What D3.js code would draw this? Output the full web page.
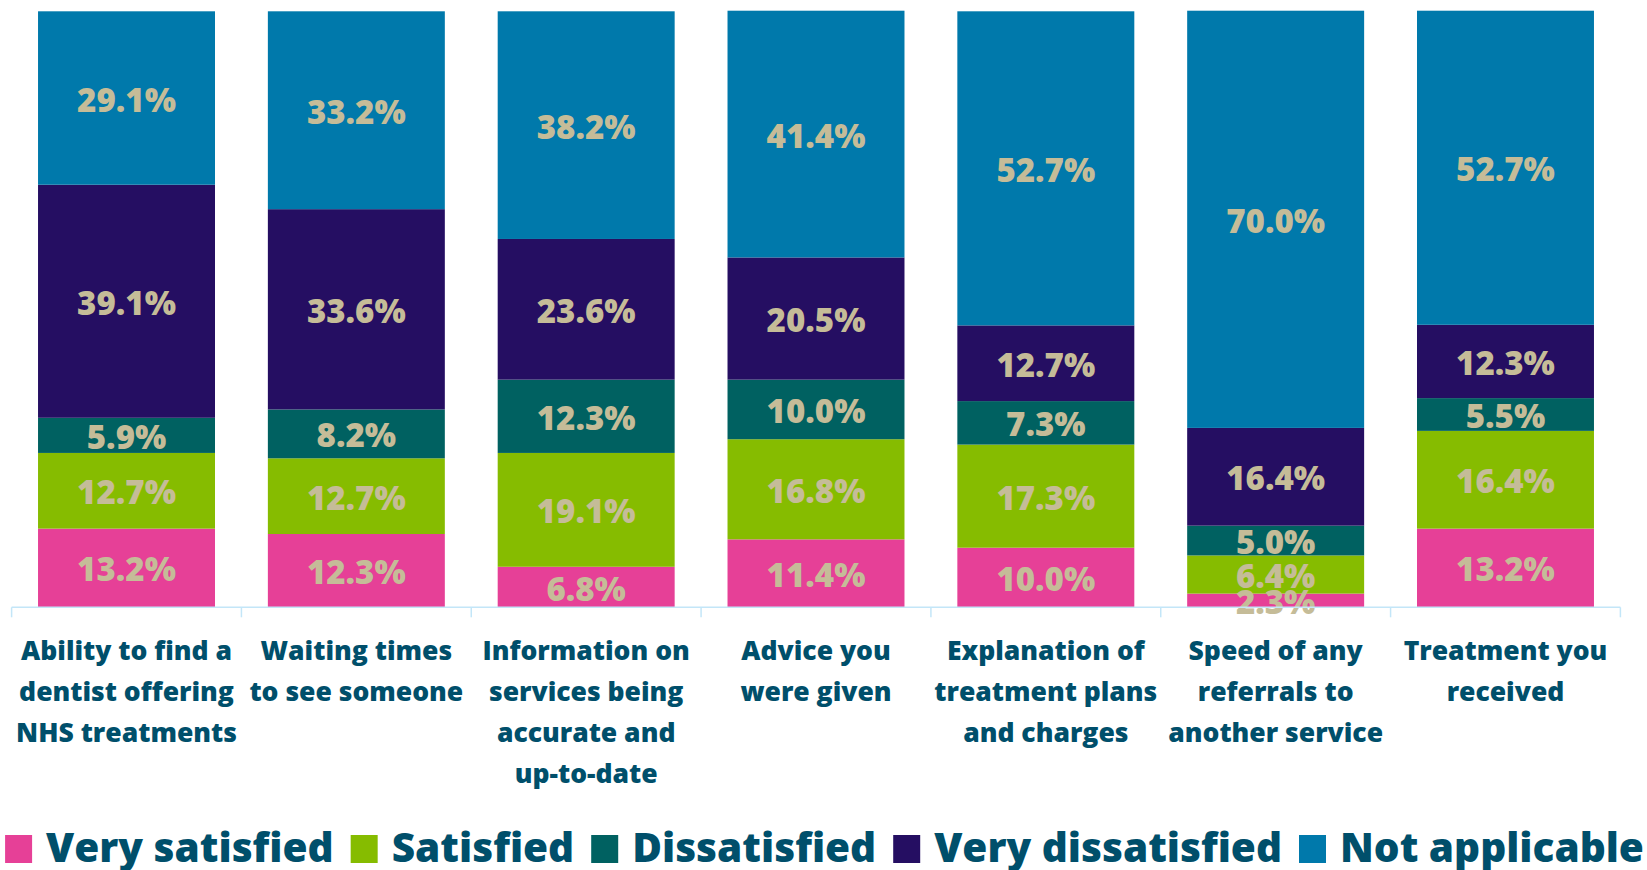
<!DOCTYPE html>
<html><head><meta charset="utf-8">
<script src="https://cdn.jsdelivr.net/npm/d3@7"></script>
<style>
html,body{margin:0;padding:0;background:#fff;overflow:hidden}
svg{display:block}
text{font-family:"Open Sans",sans-serif;font-weight:800}
</style></head>
<body><svg id="c" width="1647" height="870"></svg>
<script>
const categories = [
  ["Ability to find a","dentist offering","NHS treatments"],
  ["Waiting times","to see someone"],
  ["Information on","services being","accurate and","up-to-date"],
  ["Advice you","were given"],
  ["Explanation of","treatment plans","and charges"],
  ["Speed of any","referrals to","another service"],
  ["Treatment you","received"]
];
const seriesNames = ["Very satisfied","Satisfied","Dissatisfied","Very dissatisfied","Not applicable"];
const verySatisfied    = [13.2, 12.3, 6.8, 11.4, 10.0, 2.3, 13.2];
const satisfied        = [12.7, 12.7, 19.1, 16.8, 17.3, 6.4, 16.4];
const dissatisfied     = [5.9, 8.2, 12.3, 10.0, 7.3, 5.0, 5.5];
const veryDissatisfied = [39.1, 33.6, 23.6, 20.5, 12.7, 16.4, 12.3];
const notApplicable    = [29.1, 33.2, 38.2, 41.4, 52.7, 70.0, 52.7];
const colors = ["#E64097","#86BC00","#006161","#250E62","#0079AB"];

const seriesValues = [verySatisfied, satisfied, dissatisfied, veryDissatisfied, notApplicable];
const rows = categories.map((c,i)=>{
  const r = {key: c.join(" ")};
  seriesNames.forEach((s,j)=> r[s] = seriesValues[j][i]);
  return r;
});
const stack = d3.stack().keys(seriesNames)(rows);

const svg = d3.select("#c");
const x = d3.scaleBand().domain(rows.map(r=>r.key)).range([11.6,1620.4]).paddingInner(0.23).paddingOuter(0.115);
const y = d3.scaleLinear().domain([0,100]).range([607.3,11.3]);
const color = d3.scaleOrdinal().domain(seriesNames).range(colors);

const g = svg.append("g");
stack.forEach(layer=>{
  const lg = g.append("g");
  lg.selectAll("rect").data(layer).join("rect")
    .attr("x", d=>x(d.data.key))
    .attr("width", x.bandwidth())
    .attr("y", d=>y(d[1]))
    .attr("height", d=>y(d[0])-y(d[1]))
    .attr("fill", color(layer.key));
});
stack.forEach(layer=>{
  g.append("g").selectAll("text").data(layer).join("text")
    .attr("x", d=>x(d.data.key)+x.bandwidth()/2)
    .attr("y", d=>(y(d[0])+y(d[1]))/2+1)
    .attr("text-anchor","middle")
    .attr("dominant-baseline","central")
    .attr("fill","#C5BC98")
    .style("font-size","33px")
    .text(d=>(d[1]-d[0]).toFixed(1)+"%");
});

// axis
const step = x.step();
const x0 = x.range()[0];
const axis = svg.append("g").attr("transform",`translate(0,${y(0)})`)
  .call(d3.axisBottom(x).tickSize(0).tickFormat(""));
axis.select(".domain").attr("stroke","#C3E6F8").attr("stroke-width",1.5)
  .attr("d",`M${x0},0H${x.range()[1]}`);
const bounds = d3.range(categories.length+1).map(i=>x0+i*step);
axis.selectAll(".bnd").data(bounds).join("line").attr("class","bnd")
  .attr("x1",d=>d).attr("x2",d=>d).attr("y1",0).attr("y2",10)
  .attr("stroke","#C3E6F8").attr("stroke-width",1.5);

// category labels
const lab = svg.append("g");
rows.forEach((r,i)=>{
  const t = lab.append("text").attr("text-anchor","middle")
    .attr("fill","#004F6B").style("font-size","26.5px");
  categories[i].forEach((line,k)=>{
    t.append("tspan").attr("x", x(r.key)+x.bandwidth()/2).attr("y", 660+k*41).text(line);
  });
});

// legend
const leg = svg.append("g");
function buildLegend(fs){
  leg.selectAll("*").remove();
  let cx = 0;
  seriesNames.forEach((s,i)=>{
    const it = leg.append("g");
    it.append("rect").attr("x",0).attr("y",-27).attr("width",27).attr("height",28).attr("fill",colors[i]);
    const tx = it.append("text").attr("x",41).attr("y",0).attr("fill","#004F6B").style("font-size",fs+"px").text(s);
    const w = 41 + tx.node().getComputedTextLength();
    it.attr("transform",`translate(${cx},862)`);
    cx += w + 17;
  });
  return cx - 17;
}
let total = buildLegend(40);
const fsFit = 40 * (1639 - 5*41 - 4*17) / (total - 5*41 - 4*17);
total = buildLegend(fsFit);
leg.attr("transform",`translate(${(1649-total)/2},0)`);
</script></body></html>
